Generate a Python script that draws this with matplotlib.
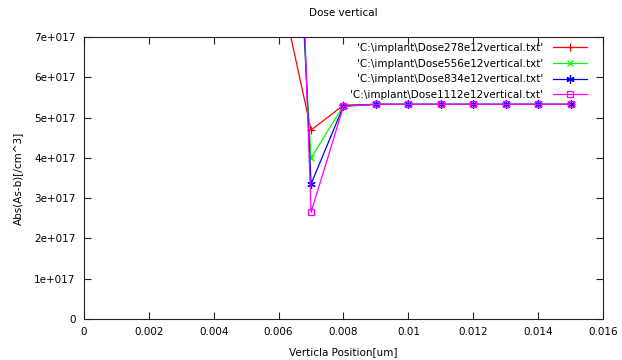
""" dose vertical profile, gnuplot style """
import numpy as np
import matplotlib
matplotlib.use("Agg")
from matplotlib import pyplot as plt
from matplotlib.ticker import FuncFormatter

# vertical position [um]
pos = [0.006, 0.007, 0.008, 0.009, 0.010, 0.011, 0.012, 0.013, 0.014, 0.015]
# Abs(As-b) [/cm^3]
dose278 = [8.4e17, 4.69e17, 5.31e17, 5.33e17, 5.33e17, 5.33e17, 5.33e17, 5.33e17, 5.33e17, 5.33e17]
dose556 = [1.8e18, 4.00e17, 5.30e17, 5.33e17, 5.33e17, 5.33e17, 5.33e17, 5.33e17, 5.33e17, 5.33e17]
dose834 = [2.15e18, 3.35e17, 5.29e17, 5.33e17, 5.33e17, 5.33e17, 5.33e17, 5.33e17, 5.33e17, 5.33e17]
dose1112 = [2.6e18, 2.65e17, 5.28e17, 5.33e17, 5.33e17, 5.33e17, 5.33e17, 5.33e17, 5.33e17, 5.33e17]

labels = ["'C:\\implant\\Dose278e12vertical.txt'",
          "'C:\\implant\\Dose556e12vertical.txt'",
          "'C:\\implant\\Dose834e12vertical.txt'",
          "'C:\\implant\\Dose1112e12vertical.txt'"]

plt.rcParams["font.family"] = ["DejaVu Sans"]
plt.rcParams["font.size"] = 7.5

fig = plt.figure(figsize=(6.22, 3.6), dpi=100)
ax = fig.add_axes([0.135, 0.114, 0.8345, 0.783])

ax.plot(pos, dose278, "-", color="red", marker="+", ms=6, mew=0.9, lw=0.9, label=labels[0])
ax.plot(pos, dose556, "-", color="#00ff00", marker="x", ms=5, mew=0.9, lw=0.9, label=labels[1])
ax.plot(pos, dose834, "-", color="blue", marker=(6, 2, 0), ms=6, mew=0.9, lw=0.9, label=labels[2])
ax.plot(pos, dose1112, "-", color="magenta", marker="s", ms=5, mew=0.9, mfc="none",
        lw=0.9, label=labels[3])

ax.set_xlim(0, 0.016)
ax.set_ylim(0, 7e17)
ax.set_xticks(np.arange(0, 0.0161, 0.002))
ax.set_yticks(np.arange(0, 7.01e17, 1e17))
ax.xaxis.set_major_formatter(FuncFormatter(lambda v, p: "%g" % round(v, 4)))
ax.yaxis.set_major_formatter(FuncFormatter(
    lambda v, p: "0" if abs(v) < 1 else "%de+017" % round(v / 1e17)))
ax.tick_params(direction="in", length=5, width=0.8, top=True, right=True,
               colors="#222222", labelcolor="black", pad=6)
for s in ax.spines.values():
    s.set_linewidth(0.8)
    s.set_color("#222222")

ax.set_title("Dose vertical", fontsize=7.5, pad=15)
ax.set_xlabel("Verticla Position[um]", labelpad=7)
ax.set_ylabel("Abs(As-b)[/cm^3]", labelpad=8)

ax.legend(loc="upper right", bbox_to_anchor=(0.977, 0.994), frameon=False,
          markerfirst=False, handlelength=3.3, handletextpad=0.9,
          labelspacing=0.55, borderaxespad=0)

plt.savefig("out.png", dpi=100)
